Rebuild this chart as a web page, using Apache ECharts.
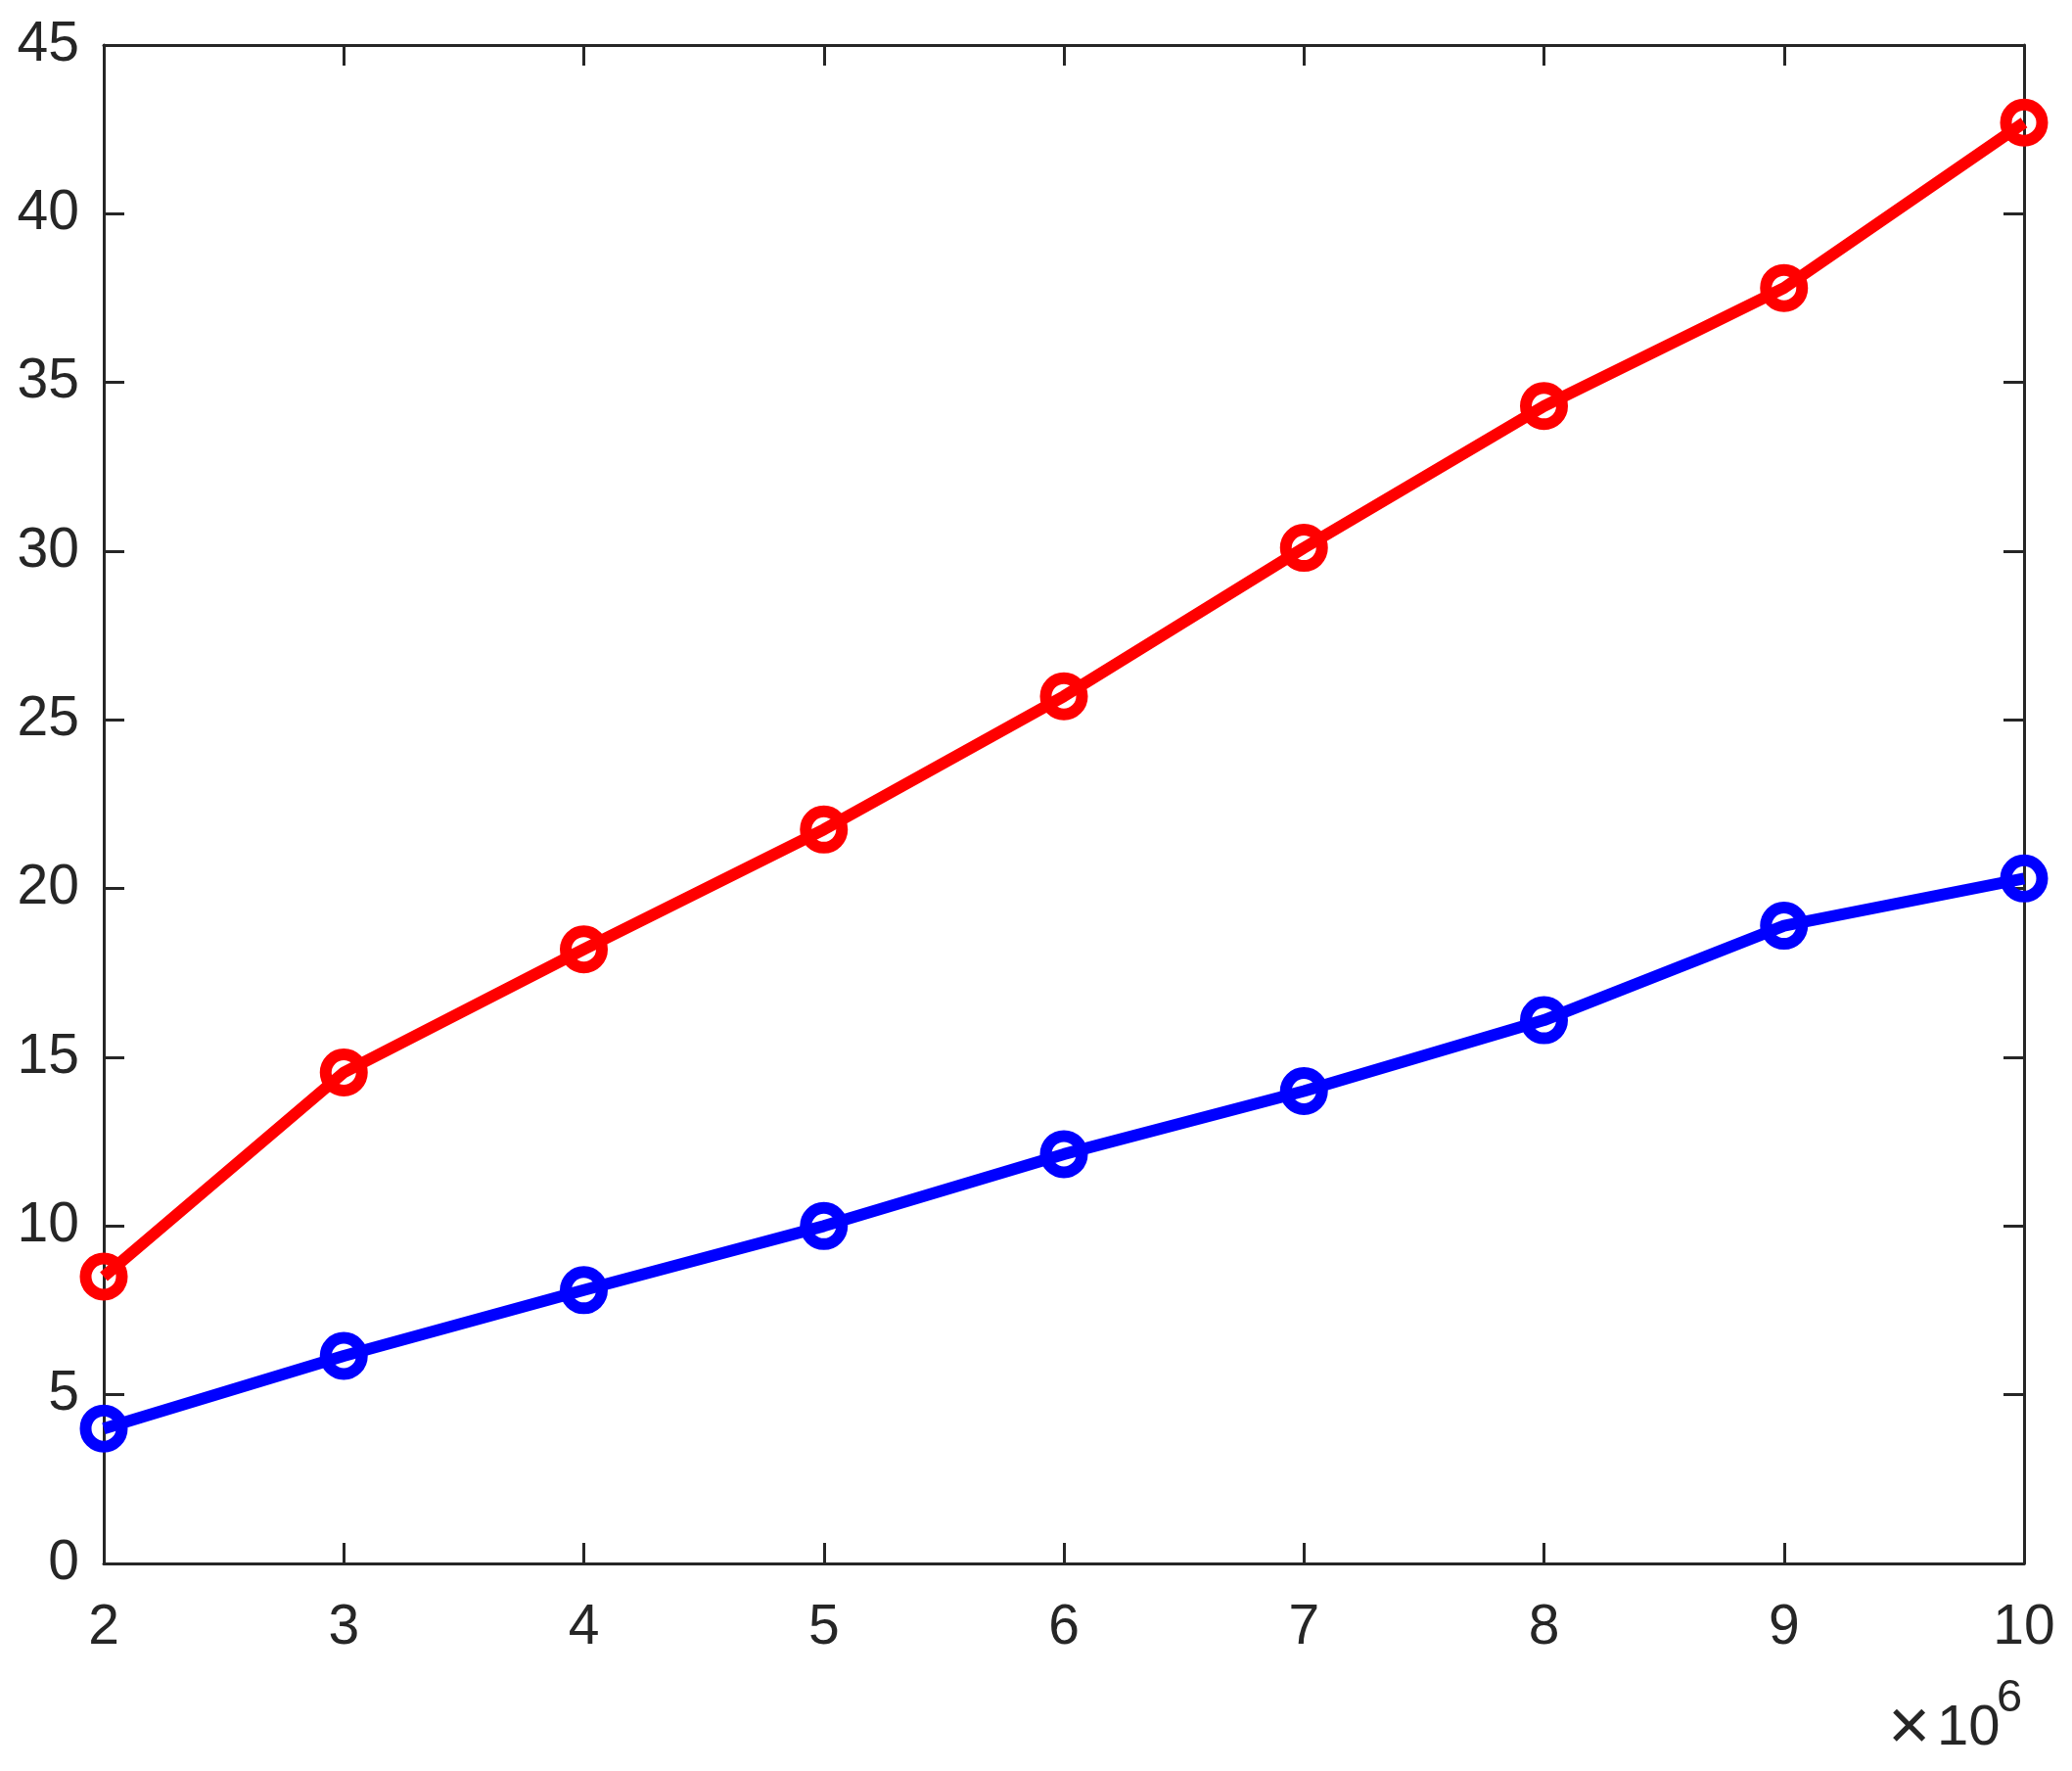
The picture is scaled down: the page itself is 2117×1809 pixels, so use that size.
<!DOCTYPE html>
<html>
<head>
<meta charset="utf-8">
<script src="https://cdn.jsdelivr.net/npm/echarts@6/dist/echarts.min.js"></script>
<style>
  html, body { margin: 0; padding: 0; background: #fff; }
  #chart { width: 2117px; height: 1809px; }
</style>
</head>
<body>
<div id="chart"></div>
<script>
// x values (real units, shown as ×10^6)
const xValues = [2e6, 3e6, 4e6, 5e6, 6e6, 7e6, 8e6, 9e6, 10e6];
const redValues = [8.5, 14.55, 18.2, 21.75, 25.7, 30.1, 34.3, 37.8, 42.7];
const blueValues = [4.0, 6.15, 8.1, 10.0, 12.13, 14.0, 16.1, 18.9, 20.3];

const axisColor = '#262626';
const fontFamily = '"Liberation Sans", Arial, sans-serif';

function pairs(xs, ys) {
  return xs.map((x, i) => [x, ys[i]]);
}

function lineSeries(name, color, values) {
  return {
    name: name,
    type: 'line',
    data: pairs(xValues, values),
    clip: false,
    symbol: 'circle',
    symbolSize: 37,
    lineStyle: { color: color, width: 12 },
    itemStyle: { color: 'rgba(0,0,0,0)', borderColor: color, borderWidth: 12 },
    emphasis: { disabled: true },
    z: 3
  };
}

const chart = echarts.init(document.getElementById('chart'));

const xBase = {
  type: 'value',
  min: 2e6,
  max: 10e6,
  interval: 1e6,
  axisLine: { show: true, onZero: false, lineStyle: { color: axisColor, width: 3 } },
  axisTick: { show: true, inside: true, length: 21, lineStyle: { color: axisColor, width: 3 } },
  splitLine: { show: false }
};
const yBase = {
  type: 'value',
  min: 0,
  max: 45,
  interval: 5,
  axisLine: { show: true, onZero: false, lineStyle: { color: axisColor, width: 3 } },
  axisTick: { show: true, inside: true, length: 21, lineStyle: { color: axisColor, width: 3 } },
  splitLine: { show: false }
};

// exponent label "×10^6" under the right end of the x axis
const expText = (text, x, y, size, vAlign) => ({
  type: 'text',
  x: x,
  y: y,
  style: { text: text, fontSize: size, fontFamily: fontFamily, fill: axisColor, align: 'left', verticalAlign: vAlign }
});

chart.setOption({
  animation: false,
  backgroundColor: '#fff',
  grid: { left: 106, right: 49, top: 46, bottom: 212 },
  xAxis: [
    Object.assign({}, xBase, {
      position: 'bottom',
      axisLabel: {
        margin: 38,
        fontSize: 57,
        color: axisColor,
        fontFamily: fontFamily,
        formatter: v => String(Math.round(v / 1e6))
      }
    }),
    Object.assign({}, xBase, { position: 'top', axisLabel: { show: false } })
  ],
  yAxis: [
    Object.assign({}, yBase, {
      position: 'left',
      axisLabel: { margin: 25, fontSize: 57, color: axisColor, fontFamily: fontFamily }
    }),
    Object.assign({}, yBase, { position: 'right', axisLabel: { show: false } })
  ],
  graphic: [
    expText('×', 1929, 1767, 74, 'middle'),
    expText('10', 1979, 1795, 58, 'bottom'),
    expText('6', 2040, 1712, 47, 'top')
  ],
  series: [
    lineSeries('red', '#ff0000', redValues),
    lineSeries('blue', '#0000ff', blueValues)
  ]
});
</script>
</body>
</html>
